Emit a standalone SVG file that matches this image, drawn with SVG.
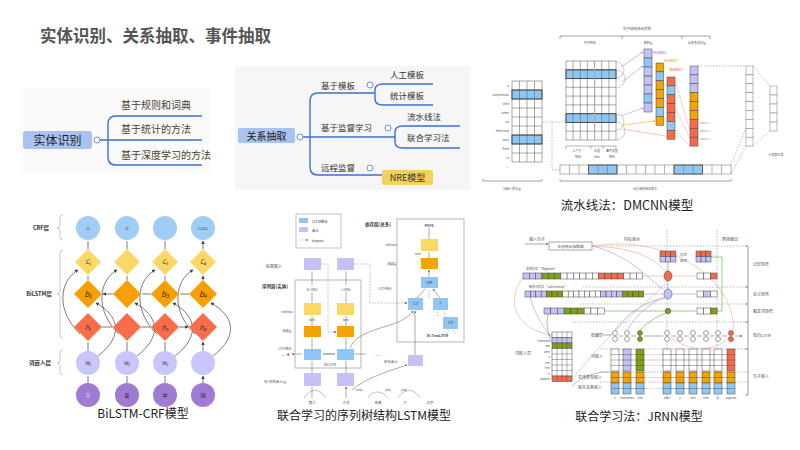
<svg xmlns="http://www.w3.org/2000/svg" width="800" height="450" viewBox="0 0 800 450">
<defs>
<style>
text{font-family:"Noto Sans CJK SC","Liberation Sans",sans-serif}
.t{fill:#444}
.cap{font-size:12.5px;fill:#222;text-anchor:middle}
.mm1{font-size:10px;fill:#4a3f2c}
.mm2{font-size:8.5px;fill:#333}
.mline{fill:none;stroke:#3d6fd6;stroke-width:1.4}
.mc{fill:#fff;stroke:#6d8fd8;stroke-width:1}
.tiny{font-size:3px;fill:#555}
.sm{font-size:4.5px;fill:#333}
.lb{font-size:5.5px;fill:#333;font-weight:bold}
.cell{stroke:#444;stroke-width:0.5}
.gcell{fill:#fff;stroke:#777;stroke-width:0.5}
.L{fill:#c3c1f8}.B{fill:#8fc7f2}.O{fill:#f5a300}.R{fill:#f26b4a}.G{fill:#7f9f16}.W{fill:#fff}.Y{fill:#fbd766}
.ar{fill:none;stroke:#444;stroke-width:0.7;marker-end:url(#ah)}
.arl{fill:none;stroke:#555;stroke-width:0.5;marker-end:url(#ahs)}
.dash{fill:none;stroke:#777;stroke-width:0.5;stroke-dasharray:1.5,1.5}
.brace{fill:none;stroke:#bbb;stroke-width:0.8}
</style>
<marker id="ah" viewBox="0 0 6 6" refX="5" refY="3" markerWidth="5" markerHeight="5" orient="auto"><path d="M0,0 L6,3 L0,6 Z" fill="#444"/></marker>
<marker id="ahs" viewBox="0 0 6 6" refX="5" refY="3" markerWidth="4" markerHeight="4" orient="auto"><path d="M0,0 L6,3 L0,6 Z" fill="#555"/></marker>
<marker id="ahp" viewBox="0 0 6 6" refX="5" refY="3" markerWidth="4" markerHeight="4" orient="auto"><path d="M0,0 L6,3 L0,6 Z" fill="#a46ef0"/></marker>
<marker id="aho" viewBox="0 0 6 6" refX="5" refY="3" markerWidth="4" markerHeight="4" orient="auto"><path d="M0,0 L6,3 L0,6 Z" fill="#f5a300"/></marker>
<marker id="ahg" viewBox="0 0 6 6" refX="5" refY="3" markerWidth="4" markerHeight="4" orient="auto"><path d="M0,0 L6,3 L0,6 Z" fill="#4fae3a"/></marker>
</defs>
<rect width="800" height="450" fill="#fff"/>

<g id="title"><text x="40" y="42" style="font-size:16.5px;font-weight:bold;fill:#555">实体识别、关系抽取、事件抽取</text></g>

<!-- Mind map 1 -->
<g id="mindmap-entity">
<rect x="20" y="88" width="190" height="85" fill="#fafafa"/>
<rect x="23" y="131" width="69" height="18" rx="3" fill="#a8c3ef"/>
<text x="57.5" y="144.5" style="font-size:12px;fill:#222;text-anchor:middle">实体识别</text>
<path class="mline" d="M100,140 H202 M202,116 H116 Q108,116 108,124 V157 Q108,165 116,165 H202"/>
<circle class="mc" cx="97" cy="140" r="3"/>
<text class="mm1" x="121" y="109">基于规则和词典</text>
<text class="mm1" x="121" y="133">基于统计的方法</text>
<text class="mm1" x="121" y="159">基于深度学习的方法</text>
</g>

<!-- Mind map 2 -->
<g id="mindmap-relation">
<rect x="235" y="66" width="235" height="124" fill="#f6f6f6"/>
<rect x="238" y="128" width="57" height="15" rx="2" fill="#a8c3ef"/>
<text x="266.5" y="139.5" style="font-size:10px;fill:#222;text-anchor:middle">关系抽取</text>
<path class="mline" d="M303,137 H395 M375,93 H318 Q310,93 310,101 V167 Q310,175 318,175 H382 M433,84 H383 Q375,84 375,90 V99 Q375,105 383,105 H433 M460,126 H403 Q395,126 395,132 V142 Q395,148 403,148 H460"/>
<circle class="mc" cx="300" cy="137" r="3"/>
<circle class="mc" cx="370" cy="85" r="3"/>
<circle class="mc" cx="388" cy="128" r="3"/>
<circle class="mc" cx="370" cy="168" r="3"/>
<rect x="382" y="170" width="51" height="15" rx="2" fill="#f5d15a"/>
<text x="407.5" y="181" style="font-size:9px;fill:#333;text-anchor:middle">NRE模型</text>
<text class="mm2" x="321" y="89">基于模板</text>
<text class="mm2" x="390" y="78">人工模板</text>
<text class="mm2" x="390" y="99">统计模板</text>
<text class="mm2" x="321" y="131">基于监督学习</text>
<text class="mm2" x="407" y="120">流水线法</text>
<text class="mm2" x="407" y="141">联合学习法</text>
<text class="mm2" x="321" y="171">远程监督</text>
</g>

<!-- DMCNN -->
<g id="dmcnn">
<text x="637" y="30" class="tiny" text-anchor="middle" style="font-size:3.5px">句子级别特征提取</text>
<path d="M560,39 V36 H710 V39 M622,36 V39 M682,36 V39" fill="none" stroke="#666" stroke-width="0.6"/>
<text x="590" y="44" class="tiny" text-anchor="middle">句子特征</text>
<text x="648" y="44" class="tiny" text-anchor="middle">卷积层</text>
<text x="697" y="44" class="tiny" text-anchor="middle">动态多池化层</text>
<!-- word embedding matrix -->
<g>
<rect x="512" y="81" width="30" height="81" fill="#fff" stroke="#555" stroke-width="0.5"/>
<rect x="512" y="90" width="30" height="9" class="B" stroke="#222" stroke-width="0.8"/>
<rect x="512" y="135" width="30" height="9" class="B" stroke="#222" stroke-width="0.8"/>
<path d="M512,90 H542 M512,99 H542 M512,108 H542 M512,117 H542 M512,126 H542 M512,135 H542 M512,144 H542 M512,153 H542 M519.5,81 V162 M527,81 V162 M534.5,81 V162" stroke="#555" stroke-width="0.5"/>
<g class="tiny" text-anchor="end"><text x="509" y="87">a</text><text x="509" y="96">cameraman</text><text x="509" y="105">died</text><text x="509" y="114">when</text><text x="509" y="123">an</text><text x="509" y="132">American</text><text x="509" y="141">tank</text><text x="509" y="150">fired</text><text x="509" y="159">in</text><text x="509" y="168">...</text></g>
</g>
<!-- sentence feature matrix -->
<g>
<rect x="566" y="61" width="50" height="79" fill="#fff" stroke="#555" stroke-width="0.5"/>
<rect x="566" y="69.8" width="50" height="8.8" class="B" stroke="#222" stroke-width="0.8"/>
<rect x="566" y="113.7" width="50" height="8.8" class="B" stroke="#222" stroke-width="0.8"/>
<path d="M566,69.8 H616 M566,78.6 H616 M566,87.3 H616 M566,96.1 H616 M566,104.9 H616 M566,113.7 H616 M566,122.4 H616 M566,131.2 H616 M573.1,61 V140 M580.3,61 V140 M587.4,61 V140 M601.7,61 V140 M608.9,61 V140" stroke="#555" stroke-width="0.5"/>
<path d="M594.6,61 V140" stroke="#aaa" stroke-width="1.2"/>
<path d="M616,62 A8,8 0 0 1 616,78 M616,70 A9,9 0 0 1 616,88 M616,114 A8,8 0 0 1 616,130 M616,122 A9,9 0 0 1 616,140" fill="none" stroke="#888" stroke-width="0.4"/>
<text x="619" y="100" class="tiny">.</text><text x="619" y="106" class="tiny">.</text>
<path d="M566,149 V146 H616 V149 M591,146 V149 M603,146 V149" fill="none" stroke="#666" stroke-width="0.5"/>
<g class="tiny" text-anchor="middle"><text x="577" y="152">上下文</text><text x="578" y="158">特征</text><text x="597" y="152">位置</text><text x="597" y="158">feat</text><text x="612" y="152">事件类型</text><text x="612" y="158">特征</text></g>
</g>
<!-- arrows into conv -->
<path d="M621,67 L643,52" stroke="#a46ef0" stroke-width="0.5" marker-end="url(#ahp)"/>
<path d="M622,82 L643,66" stroke="#a46ef0" stroke-width="0.5" marker-end="url(#ahp)"/>
<path d="M621,116 L643,108" stroke="#a46ef0" stroke-width="0.5" marker-end="url(#ahp)"/>
<path d="M622,125 L655,121" stroke="#f5a300" stroke-width="0.5" marker-end="url(#aho)"/>
<path d="M622,129 L666,136" stroke="#f58870" stroke-width="0.5"/>
<path d="M675,81 L690,130 M675,108 L690,138 M675,130 L690,146" stroke="#f58870" stroke-width="0.4" fill="none"/>
<!-- conv columns -->
<g class="cell">
<rect x="644" y="49" width="8" height="9" class="L"/><rect x="644" y="58" width="8" height="9" class="B"/><rect x="644" y="67" width="8" height="9" class="L"/><rect x="644" y="76" width="8" height="9" class="L"/><rect x="644" y="85" width="8" height="9" class="L"/><rect x="644" y="94" width="8" height="9" class="B"/><rect x="644" y="103" width="8" height="9" class="L"/>
<rect x="656" y="63" width="7.5" height="8.9" class="O"/><rect x="656" y="71.9" width="7.5" height="8.9" class="B"/><rect x="656" y="80.8" width="7.5" height="8.9" class="O"/><rect x="656" y="89.7" width="7.5" height="8.9" class="O"/><rect x="656" y="98.6" width="7.5" height="8.9" class="O"/><rect x="656" y="107.5" width="7.5" height="8.9" class="B"/><rect x="656" y="116.4" width="7.5" height="8.9" class="O"/>
<rect x="667" y="77" width="8" height="8.9" class="R"/><rect x="667" y="85.9" width="8" height="8.9" class="B"/><rect x="667" y="94.8" width="8" height="8.9" class="R"/><rect x="667" y="103.7" width="8" height="8.9" class="R"/><rect x="667" y="112.6" width="8" height="8.9" class="R"/><rect x="667" y="121.5" width="8" height="8.9" class="B"/><rect x="667" y="130.4" width="8" height="8.9" class="R"/>
<rect x="690" y="66" width="8" height="8.9" class="L"/><rect x="690" y="74.9" width="8" height="8.9" class="L"/><rect x="690" y="83.8" width="8" height="8.9" class="L"/><rect x="690" y="92.7" width="8" height="8.9" class="O"/><rect x="690" y="101.6" width="8" height="8.9" class="O"/><rect x="690" y="110.5" width="8" height="8.9" class="O"/><rect x="690" y="119.4" width="8" height="8.9" class="R"/><rect x="690" y="128.3" width="8" height="8.9" class="R"/><rect x="690" y="137.2" width="8" height="8.9" class="R"/>
</g>
<text x="653" y="54" style="font-size:3px;fill:#a46ef0">特征映射1</text>
<text x="664" y="62" style="font-size:3px;fill:#f5a300">特征映射2</text>
<text x="669" y="71" style="font-size:3px;fill:#f0603a">特征映射3</text>
<g class="tiny" style="font-size:2.5px;fill:#888"><text x="700" y="124">max(c1...)</text><text x="700" y="132">max(c2...)</text><text x="700" y="140">max(c3...)</text></g>
<!-- right columns -->
<g class="gcell">
<rect x="746" y="66" width="7" height="8.9"/><rect x="746" y="74.9" width="7" height="8.9"/><rect x="746" y="83.8" width="7" height="8.9"/><rect x="746" y="92.7" width="7" height="8.9"/><rect x="746" y="101.6" width="7" height="8.9"/><rect x="746" y="110.5" width="7" height="8.9"/><rect x="746" y="119.4" width="7" height="8.9"/><rect x="746" y="128.3" width="7" height="8.9"/><rect x="746" y="137.2" width="7" height="8.9"/>
<rect x="770" y="86" width="7" height="9"/><rect x="770" y="95" width="7" height="9"/><rect x="770" y="104" width="7" height="9"/><rect x="770" y="113" width="7" height="9"/><rect x="770" y="122" width="7" height="9"/>
</g>
<path class="dash" d="M698,66 H746 M753,66 L770,86 M753,146 L770,131 M731,165 L746,128 M731,174 L746,146"/>
<text x="776" y="156" class="tiny" text-anchor="middle">分类器分类</text>
<!-- bottom bar -->
<g>
<rect x="560" y="165" width="171" height="9" fill="#fff" stroke="#666" stroke-width="0.5"/>
<rect x="588.5" y="165" width="28.5" height="9" class="B" stroke="#222" stroke-width="0.7"/>
<rect x="674" y="165" width="28.5" height="9" class="B" stroke="#222" stroke-width="0.7"/>
<path d="M569.5,165 V174 M579,165 V174 M588.5,165 V174 M598,165 V174 M607.5,165 V174 M617,165 V174 M626.5,165 V174 M636,165 V174 M645.5,165 V174 M655,165 V174 M664.5,165 V174 M674,165 V174 M683.5,165 V174 M693,165 V174 M702.5,165 V174 M712,165 V174 M721.5,165 V174" stroke="#666" stroke-width="0.5"/>
</g>
<path class="dash" d="M543,122 H566 M552,122 V170 H560"/>
<path d="M483,179 V181 H542 V179 M560,179 V181 H731 V179" fill="none" stroke="#666" stroke-width="0.6"/>
<text x="512" y="190" class="tiny" text-anchor="middle">词嵌入表示层</text>
<text x="645" y="190" class="tiny" text-anchor="middle">词汇级别特征表示</text>
<text x="627" y="209.5" class="cap">流水线法：DMCNN模型</text>
</g>

<!-- BiLSTM-CRF -->
<g id="bilstm-crf">
<text x="41" y="230" class="lb" text-anchor="middle">CRF层</text>
<text x="39" y="296" class="lb" text-anchor="middle">BiLSTM层</text>
<text x="40" y="365" class="lb" text-anchor="middle">词嵌入层</text>
<path class="brace" d="M63,215 Q60,215 60,218 V225 Q60,228 57,228 Q60,228 60,231 V237 Q60,240 63,240"/>
<path class="brace" d="M63,250 Q60,250 60,253 V291 Q60,294 57,294 Q60,294 60,297 V335 Q60,338 63,338"/>
<path class="brace" d="M63,350 Q60,350 60,353 V360 Q60,363 57,363 Q60,363 60,366 V372 Q60,375 63,375"/>
<!-- connectors -->
<g id="bilstm-connectors">
<path class="ar" d="M88,249 V241 M127,249 V241 M165,249 V241 M203,249 V241"/>
<path class="ar" d="M88,280 V276 M127,280 V276 M165,280 V276 M203,280 V276"/>
<path class="ar" d="M88,351 V342 M127,351 V342 M165,351 V342 M203,351 V342"/>
<path class="ar" d="M88,383 V376 M127,383 V376 M165,383 V376 M203,383 V376"/>
<path class="ar" d="M189,294 H180 M151,294 H142 M113,294 H103"/>
<path class="ar" d="M102,327 H112 M141,327 H150 M179,327 H188"/>
<path class="ar" d="M98,356 C125,335 118,315 96,303"/>
<path class="ar" d="M137,356 C164,335 157,315 135,303"/>
<path class="ar" d="M175,356 C202,335 195,315 173,303"/>
<path class="ar" d="M213,356 C240,335 233,315 211,303"/>
<path class="ar" d="M80,334 C55,310 60,280 78,270"/>
<path class="ar" d="M119,334 C94,310 99,280 117,270"/>
<path class="ar" d="M157,334 C132,310 137,280 155,270"/>
<path class="ar" d="M195,334 C170,310 175,280 193,270"/>
</g>
<g id="crf-nodes" fill="#9fcdf5">
<circle cx="88" cy="228" r="12"/><circle cx="127" cy="228" r="12"/><circle cx="165" cy="228" r="12"/><circle cx="203" cy="228" r="12"/>
</g>
<g fill="#c8c6fb"><circle cx="88" cy="363" r="12"/><circle cx="127" cy="363" r="12"/><circle cx="165" cy="363" r="12"/><circle cx="203" cy="363" r="12"/></g>
<g fill="#a07bd2"><circle cx="88" cy="395" r="12"/><circle cx="127" cy="395" r="12"/><circle cx="165" cy="395" r="12"/><circle cx="203" cy="395" r="12"/></g>
<g fill="#fbd766">
<path d="M88,249 L101,262 L88,275 L75,262 Z"/><path d="M127,249 L140,262 L127,275 L114,262 Z"/><path d="M165,249 L178,262 L165,275 L152,262 Z"/><path d="M203,249 L216,262 L203,275 L190,262 Z"/>
</g>
<g fill="#f79e00">
<path d="M88,280 L102,294 L88,308 L74,294 Z"/><path d="M127,280 L141,294 L127,308 L113,294 Z"/><path d="M165,280 L179,294 L165,308 L151,294 Z"/><path d="M203,280 L217,294 L203,308 L189,294 Z"/>
</g>
<g fill="#f96e4a">
<path d="M88,313 L102,327 L88,341 L74,327 Z"/><path d="M127,313 L141,327 L127,341 L113,327 Z"/><path d="M165,313 L179,327 L165,341 L151,327 Z"/><path d="M203,313 L217,327 L203,341 L189,327 Z"/>
</g>
<g style="font-size:4px;fill:#333" text-anchor="middle" font-family="Liberation Serif">
<text x="88" y="229.5">O</text><text x="127" y="229.5">O</text><text x="203" y="229.5">I-LOC</text>
</g>
<g style="font-size:6px;fill:#333;font-style:italic" text-anchor="middle">
<text x="88" y="264">C₁</text><text x="165" y="264">C₃</text><text x="203" y="264">C₄</text>
<text x="88" y="297" style="font-size:8px">b₁</text><text x="165" y="297" style="font-size:8px">b₃</text><text x="203" y="297" style="font-size:8px">b₄</text>
<text x="88" y="330" style="font-size:7px">h₁</text><text x="165" y="330" style="font-size:7px">h₃</text><text x="203" y="330" style="font-size:7px">h₄</text>
<text x="88" y="365" style="font-size:5px">W₁</text><text x="127" y="365" style="font-size:5px">W₂</text><text x="165" y="365" style="font-size:5px">W₃</text>
</g>
<g style="font-size:5px;fill:#fff" text-anchor="middle"><text x="88" y="397" fill="#d8c8f0">我</text><text x="127" y="397" fill="#222">爱</text><text x="165" y="397" fill="#222">中</text><text x="203" y="397" fill="#222">国</text></g>
<text x="143" y="418" class="cap" style="font-size:12px">BiLSTM-CRF模型</text>
</g>

<!-- Sequence-tree LSTM -->
<g id="tree-lstm">
<rect x="296" y="214" width="45" height="34" fill="#fff" stroke="#999" stroke-width="0.6"/>
<rect x="299" y="218" width="9" height="5" class="B"/><text x="312" y="222.5" class="sm" style="font-size:3.5px">LSTM单元</text>
<rect x="299" y="227" width="9" height="5" class="L"/><text x="312" y="231.5" class="sm" style="font-size:3.5px">嵌入</text>
<path d="M299,240 H308" class="dash" marker-end="url(#ahs)"/><text x="312" y="241.5" class="sm" style="font-size:3px">dropout</text>
<text x="365" y="226" class="sm" style="font-weight:bold">依存层(关系)</text>
<rect x="397" y="219" width="67" height="123" fill="none" stroke="#999" stroke-width="0.7"/>
<rect x="295" y="280" width="66" height="88" fill="none" stroke="#999" stroke-width="0.7"/>
<text x="262" y="288" class="sm" style="font-weight:bold">序列层(实体)</text>
<text x="266" y="268" class="sm" style="font-size:4px">标签嵌入</text>
<text x="287" y="313" class="tiny" text-anchor="middle">softmax</text>
<text x="287" y="332" class="tiny" text-anchor="middle">隐藏层</text>
<text x="285" y="350" class="tiny" text-anchor="middle">LSTM单元</text>
<text x="285" y="356" class="tiny" text-anchor="middle">...... ◀</text>
<text x="275" y="383" class="tiny" style="font-size:3.5px" text-anchor="middle">词/词性嵌入层</text>
<g id="tree-connectors">
<path class="arl" d="M312,373 V361 M346,373 V361 M312,349 V338 M346,349 V338 M312,326 V316 M346,326 V316 M312,303 V292 M346,303 V292 M312,285 V271 M346,285 V271 M312,398 V387 M346,398 V387"/>
<path class="arl" d="M323,354 H335 M335,354 H323 M354,354 H366 M302,354 H292"/>
<path class="dash" d="M321,264 H328 V332 H335"/><path d="M333,332 L336,332" class="arl"/>
<path class="dash" d="M354,264 H370 V303 H406"/><path d="M404,303 L407,303" class="arl"/>
<path d="M350,348 C360,325 400,330 413,311" fill="none" stroke="#555" stroke-width="0.5" marker-end="url(#ahs)"/>
<path class="arl" d="M415,355 V311"/>
<path d="M352,390 C365,378 392,370 407,365" fill="none" stroke="#555" stroke-width="0.5" marker-end="url(#ahs)"/>
<path class="arl" d="M429,239 V228 M429,258 V252 M429,277 V270"/>
<path class="arl" d="M417,298 L425,289 M440,298 L433,289"/>
<path class="dash" d="M429,298 V289 M446,317 L443,311 M413,316 L415,311 M437,316 L438,311 M447,334 L449,330 M455,334 L453,330"/>
<path d="M304,398 C310,388 320,388 326,398 M368,398 C372,390 382,390 388,398 M398,398 C404,388 414,388 420,398" fill="none" stroke="#666" stroke-width="0.4"/>
</g>
<text x="375" y="356" class="tiny">......</text>
<rect x="304" y="258" width="17" height="12" class="L"/><rect x="337" y="258" width="17" height="12" class="L"/>
<text x="312" y="291" class="tiny" text-anchor="middle" style="font-size:3.5px">B-ORG</text><text x="346" y="291" class="tiny" text-anchor="middle" style="font-size:3.5px">I-ORG</text>
<rect x="304" y="303" width="17" height="12" class="Y"/><rect x="337" y="303" width="17" height="12" class="Y"/>
<text x="312" y="321" class="tiny" text-anchor="middle">tanh</text><text x="346" y="321" class="tiny" text-anchor="middle">tanh</text>
<rect x="304" y="326" width="17" height="11" class="O"/><rect x="337" y="326" width="17" height="11" class="O"/>
<rect x="304" y="349" width="17" height="11" class="B"/><rect x="337" y="349" width="17" height="11" class="B"/>
<text x="330" y="366" class="tiny" text-anchor="middle" style="font-size:3.5px">BiLSTM</text>
<rect x="304" y="373" width="17" height="13" class="L"/><rect x="337" y="373" width="17" height="13" class="L"/>
<text x="429" y="227" class="tiny" text-anchor="middle" style="font-size:3.5px;font-weight:bold">PHYS</text>
<text x="391" y="246" class="tiny" text-anchor="middle">softmax</text>
<rect x="421" y="239" width="17" height="12" class="Y"/>
<text x="418" y="255" class="tiny" text-anchor="middle">tanh</text>
<text x="392" y="265" class="tiny" text-anchor="middle">隐藏层</text>
<rect x="421" y="258" width="17" height="11" class="O"/>
<text x="385" y="290" class="tiny" text-anchor="middle">LSTM单元</text>
<rect x="421" y="277" width="17" height="11" class="B"/><text x="429.5" y="284" class="tiny" text-anchor="middle">依赖</text>
<rect x="408" y="298" width="15" height="12" class="B"/><text x="415.5" y="305" class="tiny" text-anchor="middle">大学</text>
<rect x="433" y="298" width="15" height="12" class="B"/><text x="440.5" y="305" class="tiny" text-anchor="middle">于</text>
<rect x="443" y="317" width="15" height="12" class="B"/><text x="450.5" y="324" class="tiny" text-anchor="middle">北京</text>
<text x="427" y="337" class="tiny" style="font-size:3.5px;font-weight:bold">Bi-TreeLSTM</text>
<text x="391" y="363" class="tiny" text-anchor="middle" style="font-size:3.5px">依存嵌入</text>
<rect x="408" y="355" width="15" height="11" class="L"/>
<g class="tiny" text-anchor="middle" style="font-size:3.5px"><text x="312" y="404">清华</text><text x="346" y="404">大学</text><text x="378" y="404">坐落</text><text x="405" y="404">于</text><text x="430" y="404">北京</text></g>
<g class="tiny" text-anchor="middle" style="font-size:2.5px"><text x="359" y="391">nsubj</text><text x="388" y="391">prep</text><text x="404" y="391">pobj</text></g>
<text x="364" y="420" class="cap" style="font-size:12px">联合学习的序列树结构LSTM模型</text>
</g>

<!-- JRNN -->
<g id="jrnn">
<text x="537" y="241" class="tiny" text-anchor="middle" style="font-size:4px">输入句子</text>
<path class="arl" d="M525,244 H548"/>
<rect x="549" y="242" width="43" height="8" fill="#fff" stroke="#555" stroke-width="0.5"/>
<text x="570.5" y="247.5" class="tiny" text-anchor="middle" style="font-size:3.8px">本地特征抽取器</text>
<text x="632" y="241" class="tiny" text-anchor="middle" style="font-size:4px">特征表示</text>
<text x="730" y="241" class="tiny" text-anchor="middle" style="font-size:4px">预测输出</text>
<path class="dash" d="M667,230 V400 M717,230 V400 M592,246 H748 M583,287 H748 M580,304 H748 M572,322 H748 M600,349 H748 M600,372 H748 M600,382 H748"/>
<path d="M748,246 V395 M745,246 H748 M745,287 H748 M745,304 H748 M745,322 H748 M745,349 H748 M745,395 H748" stroke="#555" stroke-width="0.6" fill="none"/>
<g class="tiny" style="font-size:4px"><text x="753" y="266">记忆矩阵</text><text x="753" y="296">论元矩阵</text><text x="753" y="313">触发词矩阵</text><text x="753" y="337">双向LSTM</text><text x="753" y="378">句子嵌入</text></g>
<!-- curves -->
<g fill="none" stroke-width="0.6">
<path stroke="#f4a58a" d="M592,246 C640,248 655,260 666,272"/>
<path stroke="#f4a58a" d="M592,246 C660,235 725,270 733,320 C738,345 700,360 672,338"/>
<path stroke="#f4a58a" d="M668,281 C645,305 610,330 572,380"/>
<path stroke="#f4a58a" d="M523,278 C505,300 515,330 552,335"/>
<path stroke="#f4a58a" d="M642,276 H664 M672,276 H696"/>
<path stroke="#a98ff0" d="M592,246 C630,255 650,280 665,291"/>
<path stroke="#a98ff0" d="M627,330 C640,310 655,300 666,297"/>
<path stroke="#a98ff0" d="M615,330 C630,310 650,300 665,298"/>
<path stroke="#a98ff0" d="M644,294 H664 M672,294 H696"/>
<path stroke="#a98ff0" d="M530,297 C535,315 545,330 552,338"/>
<path stroke="#a98ff0" d="M668,289 V262"/>
<path stroke="#4fae3a" d="M640,330 C650,320 660,315 666,313"/>
<path stroke="#4fae3a" d="M604,311 H696 M717,311 H722 V257 H711"/>
<path stroke="#4fae3a" d="M548,314 C545,325 550,340 552,343"/>
<path stroke="#8a8a8a" d="M572,386 C585,375 595,372 610,372"/>
</g>
<!-- memory boxes -->
<g class="cell">
<rect x="660" y="251" width="5.3" height="5.5" class="R"/><rect x="665.3" y="251" width="5.3" height="5.5" class="R"/><rect x="670.6" y="251" width="5.3" height="5.5" class="R"/>
<rect x="660" y="256.5" width="5.3" height="5.5" class="L"/><rect x="665.3" y="256.5" width="5.3" height="5.5" class="L"/><rect x="670.6" y="256.5" width="5.3" height="5.5" class="L"/>
<rect x="696" y="251" width="5" height="5.5" class="R"/><rect x="701" y="251" width="5" height="5.5" class="R"/><rect x="706" y="251" width="5" height="5.5" class="R"/>
<rect x="696" y="256.5" width="5" height="5.5" class="L"/><rect x="701" y="256.5" width="5" height="5.5" class="L"/><rect x="706" y="256.5" width="5" height="5.5" class="L"/>
</g>
<text x="680" y="255.5" class="tiny" style="font-size:3.5px">记忆</text><text x="680" y="261.5" class="tiny" style="font-size:3.5px">矩阵</text>
<!-- row bars -->
<text x="526" y="270" class="tiny">实体提及 “Baghdad”</text>
<g class="cell">
<rect x="523" y="273" width="6.3" height="6" class="L"/><rect x="529.3" y="273" width="6.3" height="6" class="L"/><rect x="535.6" y="273" width="6.3" height="6" class="L"/>
<rect x="541.9" y="273" width="6.3" height="6" class="G"/><rect x="548.2" y="273" width="6.3" height="6" class="G"/><rect x="554.5" y="273" width="6.3" height="6" class="G"/>
<rect x="560.8" y="273" width="6.3" height="6" class="W"/><rect x="567.1" y="273" width="6.3" height="6" class="W"/><rect x="573.4" y="273" width="6.3" height="6" class="W"/><rect x="579.7" y="273" width="6.3" height="6" class="W"/><rect x="586" y="273" width="6.3" height="6" class="W"/><rect x="592.3" y="273" width="6.3" height="6" class="W"/>
<rect x="598.6" y="273" width="6.3" height="6" class="R"/><rect x="604.9" y="273" width="6.3" height="6" class="R"/><rect x="611.2" y="273" width="6.3" height="6" class="R"/><rect x="617.5" y="273" width="6.3" height="6" class="R"/>
<rect x="623.8" y="273" width="6.3" height="6" class="W"/><rect x="630.1" y="273" width="6.3" height="6" class="W"/><rect x="636.4" y="273" width="6.3" height="6" class="W"/>
</g>
<text x="529" y="288" class="tiny">触发词提及 “cameraman”</text>
<g class="cell">
<rect x="525" y="291" width="5.4" height="6" class="L"/><rect x="530.4" y="291" width="5.4" height="6" class="L"/><rect x="535.8" y="291" width="5.4" height="6" class="L"/><rect x="541.2" y="291" width="5.4" height="6" class="L"/>
<rect x="546.6" y="291" width="5.4" height="6" class="G"/><rect x="552" y="291" width="5.4" height="6" class="G"/><rect x="557.4" y="291" width="5.4" height="6" class="G"/>
<rect x="562.8" y="291" width="5.4" height="6" class="W"/><rect x="568.2" y="291" width="5.4" height="6" class="W"/><rect x="573.6" y="291" width="5.4" height="6" class="W"/><rect x="579" y="291" width="5.4" height="6" class="W"/><rect x="584.4" y="291" width="5.4" height="6" class="W"/><rect x="589.8" y="291" width="5.4" height="6" class="W"/><rect x="595.2" y="291" width="5.4" height="6" class="W"/>
<rect x="600.6" y="291" width="5.4" height="6" class="L"/><rect x="606" y="291" width="5.4" height="6" class="L"/><rect x="611.4" y="291" width="5.4" height="6" class="L"/><rect x="616.8" y="291" width="5.4" height="6" class="L"/>
<rect x="622.2" y="291" width="5.4" height="6" class="G"/><rect x="627.6" y="291" width="5.4" height="6" class="G"/><rect x="633" y="291" width="5.4" height="6" class="G"/><rect x="638.4" y="291" width="5.4" height="6" class="G"/>
</g>
<g class="cell">
<rect x="544" y="308" width="6.7" height="6" class="L"/><rect x="550.7" y="308" width="6.7" height="6" class="L"/><rect x="557.4" y="308" width="6.7" height="6" class="L"/>
<rect x="564.1" y="308" width="6.7" height="6" class="G"/><rect x="570.8" y="308" width="6.7" height="6" class="G"/><rect x="577.5" y="308" width="6.7" height="6" class="G"/>
<rect x="584.2" y="308" width="6.7" height="6" class="W"/><rect x="590.9" y="308" width="6.7" height="6" class="W"/><rect x="597.6" y="308" width="6.7" height="6" class="W"/>
</g>
<!-- nodes -->
<ellipse cx="668" cy="276" rx="4" ry="5" fill="#f26b4a" stroke="#444" stroke-width="0.5"/>
<ellipse cx="668" cy="294" rx="4" ry="5" fill="#c3c1f8" stroke="#444" stroke-width="0.5"/>
<circle cx="668" cy="311" r="2.8" fill="#7f9f16" stroke="#444" stroke-width="0.5"/>
<g class="cell">
<rect x="697" y="273" width="6.7" height="6" class="W"/><rect x="703.7" y="273" width="6.7" height="6" class="W"/><rect x="710.4" y="273" width="6.7" height="6" class="R"/>
<rect x="697" y="291" width="6.7" height="6" class="W"/><rect x="703.7" y="291" width="6.7" height="6" class="L"/><rect x="710.4" y="291" width="6.7" height="6" class="W"/>
<rect x="697" y="308" width="6.7" height="6" class="W"/><rect x="703.7" y="308" width="6.7" height="6" class="W"/><rect x="710.4" y="308" width="6.7" height="6" class="G"/>
</g>
<!-- word embedding matrix -->
<text x="523" y="355" class="tiny" text-anchor="middle" style="font-size:4px">词嵌入层</text>
<g class="cell">
<rect x="552" y="332" width="20" height="5.5" class="W"/>
<rect x="552" y="337.5" width="20" height="5.5" class="L"/>
<rect x="552" y="343" width="20" height="5.5" class="G"/>
<rect x="552" y="348.5" width="20" height="27.5" class="W"/>
<rect x="552" y="376" width="20" height="5.5" class="R"/>
</g>
<path d="M552,354 H572 M552,359.5 H572 M552,365 H572 M552,370.5 H572 M557,332 V381.5 M562,332 V381.5 M567,332 V381.5" stroke="#444" stroke-width="0.4"/>
<g class="tiny" text-anchor="end" style="font-size:2.3px"><text x="550" y="336">a</text><text x="550" y="341.5">cameraman</text><text x="550" y="347">died</text><text x="550" y="352.5">when</text><text x="550" y="358">a</text><text x="550" y="363.5">tank</text><text x="550" y="369">fired</text><text x="550" y="374.5">in</text><text x="550" y="380">Baghdad</text></g>
<!-- hidden layer -->
<text x="597" y="337" class="tiny" text-anchor="middle" style="font-size:4px">隐藏层</text>
<path class="arl" d="M603,335 H611 M619,336 H623 M631,336 H636 M644,336 H663 M671,336 H676 M684,336 H689 M697,336 H702 M710,336 H714 M722,336 H727 M735,336 H742"/>
<g stroke="#444" stroke-width="0.5">
<circle cx="615" cy="333" r="2.5" fill="#fff"/><circle cx="615" cy="339" r="2.5" fill="#fff"/>
<circle cx="627" cy="333" r="2.5" fill="#fff"/><circle cx="627" cy="339" r="2.5" fill="#fff"/>
<circle cx="640" cy="333" r="2.5" fill="#7f9f16"/><circle cx="640" cy="339" r="2.5" fill="#7f9f16"/>
<circle cx="667" cy="333" r="2.5" fill="#fff"/><circle cx="667" cy="339" r="2.5" fill="#fff"/>
<circle cx="680" cy="333" r="2.5" fill="#fff"/><circle cx="680" cy="339" r="2.5" fill="#fff"/>
<circle cx="693" cy="333" r="2.5" fill="#fff"/><circle cx="693" cy="339" r="2.5" fill="#fff"/>
<circle cx="706" cy="333" r="2.5" fill="#fff"/><circle cx="706" cy="339" r="2.5" fill="#fff"/>
<circle cx="718" cy="333" r="2.5" fill="#fff"/><circle cx="718" cy="339" r="2.5" fill="#fff"/>
<circle cx="731" cy="333" r="2.5" fill="#f26b4a"/><circle cx="731" cy="339" r="2.5" fill="#f26b4a"/>
</g>
<!-- columns -->
<g class="cell">
<rect x="611" y="349" width="8" height="22" class="W"/><rect x="623" y="349" width="8" height="22" class="L"/><rect x="636" y="349" width="8" height="22" class="G"/><rect x="663" y="349" width="8" height="22" class="W"/><rect x="676" y="349" width="8" height="22" class="W"/><rect x="689" y="349" width="8" height="22" class="W"/><rect x="702" y="349" width="8" height="22" class="W"/><rect x="714" y="349" width="8" height="22" class="W"/><rect x="727" y="349" width="8" height="22" class="R"/>
<rect x="611" y="372" width="8" height="11" class="O"/><rect x="623" y="372" width="8" height="11" class="O"/><rect x="636" y="372" width="8" height="11" class="O"/><rect x="663" y="372" width="8" height="11" class="O"/><rect x="676" y="372" width="8" height="11" class="O"/><rect x="689" y="372" width="8" height="11" class="O"/><rect x="702" y="372" width="8" height="11" class="O"/><rect x="714" y="372" width="8" height="11" class="O"/><rect x="727" y="372" width="8" height="11" class="O"/>
<rect x="611" y="383" width="8" height="11" class="B"/><rect x="623" y="383" width="8" height="11" class="B"/><rect x="636" y="383" width="8" height="11" class="B"/><rect x="663" y="383" width="8" height="11" class="B"/><rect x="676" y="383" width="8" height="11" class="B"/><rect x="689" y="383" width="8" height="11" class="B"/><rect x="702" y="383" width="8" height="11" class="B"/><rect x="714" y="383" width="8" height="11" class="B"/><rect x="727" y="383" width="8" height="11" class="B"/>
</g>
<path d="M611,354.5 H735 M611,360 H735 M611,365.5 H735 M611,377.5 H735 M611,388.5 H735" stroke="#444" stroke-width="0.4" stroke-dasharray="0"/>
<path d="M645,354.5 H662 M645,360 H662 M645,365.5 H662 M645,377.5 H662 M645,388.5 H662" stroke="#fff" stroke-width="0.6"/>
<text x="597" y="358" class="tiny" text-anchor="middle" style="font-size:4px">词嵌入</text>
<text x="590" y="379" class="tiny" text-anchor="middle" style="font-size:4px">实体类型嵌入</text>
<text x="590" y="389" class="tiny" text-anchor="middle" style="font-size:4px">依存关系嵌入</text>
<g class="tiny" text-anchor="middle" style="font-size:2.5px"><text x="615" y="399">a</text><text x="627" y="399">cameraman</text><text x="640" y="399">died</text><text x="667" y="399">when</text><text x="680" y="399">a</text><text x="693" y="399">tank</text><text x="706" y="399">fired</text><text x="718" y="399">in</text><text x="731" y="399">Baghdad</text></g>
<text x="639" y="421" class="cap" style="font-size:12px">联合学习法：JRNN模型</text>
</g>
</svg>
